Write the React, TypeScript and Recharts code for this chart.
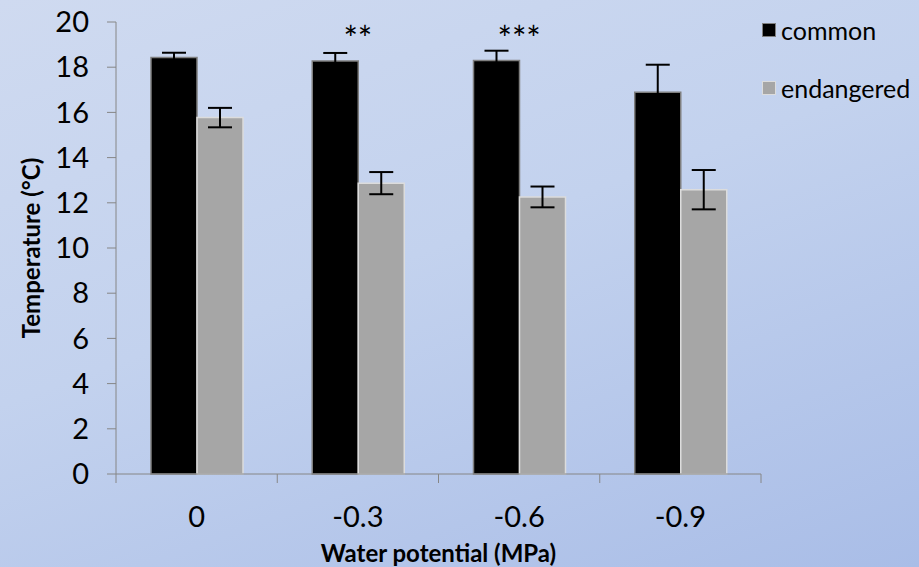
import React from 'react';
import { BarChart, Bar, XAxis, YAxis, ErrorBar, Legend, ReferenceDot } from 'recharts';

// water potential (MPa) categories
const categories = ['0', '-0.3', '-0.6', '-0.9'];
const commonTemp = [18.43, 18.27, 18.3, 16.89];
const commonErr = [0.21, 0.36, 0.43, 1.22];
const endangeredTemp = [15.77, 12.87, 12.26, 12.58];
const endangeredErr = [0.43, 0.49, 0.46, 0.87];
const significance = ['', '**', '***', ''];
const yTicks = [0, 2, 4, 6, 8, 10, 12, 14, 16, 18, 20];

const W = 919;
const H = 567;
const LEFT = 116;
const RIGHT = 158;
const FONT = 'Lato, "Open Sans", sans-serif';
const AXIS = '#868686';
const BAND = (W - LEFT - RIGHT) / categories.length;

const data = categories.map((c, i) => ({
  name: c,
  common: commonTemp[i],
  commonErr: commonErr[i],
  endangered: endangeredTemp[i],
  endangeredErr: endangeredErr[i],
}));

function XTick(props: any) {
  const { x, y, payload, index } = props;
  const left = x - BAND / 2;
  return (
    <g>
      <line x1={left} x2={left} y1={y} y2={y + 9} stroke={AXIS} />
      {index === categories.length - 1 && (
        <line x1={x + BAND / 2} x2={x + BAND / 2} y1={y} y2={y + 9} stroke={AXIS} />
      )}
      <text x={x} y={y + 53} textAnchor="middle" fontSize={29} fontFamily={FONT} fill="#000">
        {payload.value}
      </text>
    </g>
  );
}

function LegendBox() {
  const items = [
    { name: 'common', fill: '#000', border: '#7f7f7f' },
    { name: 'endangered', fill: '#a6a6a6', border: '#dcdcdc' },
  ];
  return (
    <div style={{ fontFamily: FONT, fontSize: 25, color: '#000' }}>
      {items.map((it) => (
        <div key={it.name} style={{ display: 'flex', alignItems: 'center', height: 58 }}>
          <span
            style={{
              width: 12,
              height: 12,
              background: it.fill,
              border: `1.5px solid ${it.border}`,
              marginRight: 5,
            }}
          />
          <span>{it.name}</span>
        </div>
      ))}
    </div>
  );
}

export default function App() {
  return (
    <div
      style={{
        position: 'absolute',
        left: 0,
        top: 0,
        width: W,
        height: H,
        background: 'linear-gradient(160deg, #cfdaf0 0%, #c3d2ee 45%, #a9bde7 100%)',
      }}
    >
      <BarChart
        width={W}
        height={H}
        data={data}
        margin={{ top: 22, right: RIGHT, bottom: 0, left: 0 }}
        barSize={46}
        barGap={0}
      >
        <XAxis
          dataKey="name"
          height={93}
          axisLine={{ stroke: AXIS }}
          tickLine={false}
          tickSize={0}
          tickMargin={0}
          tick={<XTick />}
          interval={0}
          label={({ viewBox }: any) => (
            <text
              x={viewBox.x + viewBox.width / 2}
              y={viewBox.y + 88}
              textAnchor="middle"
              fontSize={24}
              fontWeight="bold"
              fontFamily={FONT}
              fill="#000"
            >
              Water potential (MPa)
            </text>
          )}
        />
        <YAxis
          width={LEFT}
          domain={[0, 20]}
          ticks={yTicks}
          interval={0}
          axisLine={{ stroke: AXIS }}
          tickLine={{ stroke: AXIS }}
          tickSize={9}
          tickMargin={18}
          tick={{ fontSize: 29, fontFamily: FONT, fill: '#000' }}
          label={({ viewBox }: any) => {
            const cx = 30;
            const cy = viewBox.y + viewBox.height / 2;
            return (
              <text
                x={cx}
                y={cy}
                transform={`rotate(-90, ${cx}, ${cy})`}
                textAnchor="middle"
                dominantBaseline="central"
                fontSize={24}
                fontWeight="bold"
                fontFamily={FONT}
                fill="#000"
              >
                Temperature (°C)
              </text>
            );
          }}
        />
        <Legend
          layout="vertical"
          align="center"
          verticalAlign="middle"
          wrapperStyle={{ left: 762, top: 1, width: 157 }}
          content={<LegendBox />}
        />
        <Bar dataKey="common" fill="#000" stroke="#7f7f7f" strokeWidth={1.5} isAnimationActive={false}>
          <ErrorBar dataKey="commonErr" width={12} stroke="#000" strokeWidth={2} direction="y" />
        </Bar>
        <Bar dataKey="endangered" fill="#a6a6a6" stroke="#dcdcdc" strokeWidth={1.5} isAnimationActive={false}>
          <ErrorBar dataKey="endangeredErr" width={12} stroke="#000" strokeWidth={2} direction="y" />
        </Bar>
        {significance.map((s, i) =>
          s ? (
            <ReferenceDot
              key={i}
              x={categories[i]}
              y={19.25}
              r={0}
              fill="none"
              stroke="none"
              ifOverflow="visible"
              label={{ value: s, position: 'center', fontSize: 34, fontFamily: FONT, fill: '#000' }}
            />
          ) : null
        )}
      </BarChart>
    </div>
  );
}
